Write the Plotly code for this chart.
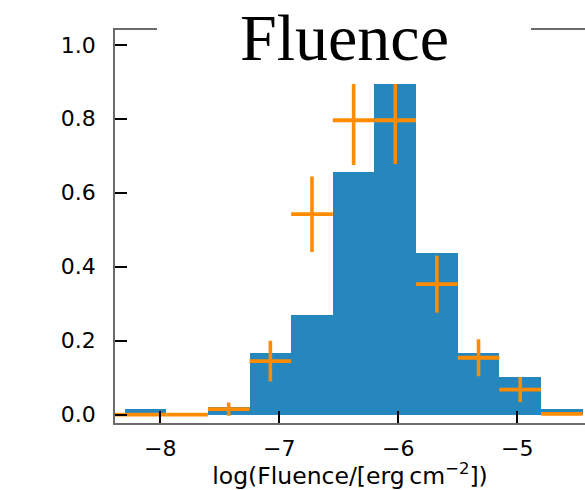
import plotly.graph_objects as go

# Blue histogram (bin left edges at -8.30, width 0.35)
hist_centers = [-8.125, -7.775, -7.425, -7.075, -6.725, -6.375, -6.025, -5.675, -5.325, -4.975, -4.625]
hist_values = [0.016, 0.0, 0.020, 0.168, 0.269, 0.656, 1.0, 0.436, 0.168, 0.103, 0.015]
bin_width = 0.35

# Orange binned points with errors
pt_centers = [-8.475, -8.125, -7.775, -7.425, -7.075, -6.725, -6.375, -6.025, -5.675, -5.325, -4.975, -4.625]
pt_values = [0.0, 0.0, 0.0, 0.015, 0.145, 0.542, 0.796, 0.796, 0.353, 0.154, 0.068, 0.002]
pt_errors = [0.0, 0.0, 0.0, 0.018, 0.055, 0.102, 0.121, 0.118, 0.077, 0.050, 0.034, 0.0]

x_ticks = [-8, -7, -6, -5]
y_ticks = [0.0, 0.2, 0.4, 0.6, 0.8, 1.0]

fig = go.Figure()
fig.add_trace(go.Bar(x=hist_centers, y=hist_values, width=bin_width,
                     marker=dict(color="#2687be", line=dict(width=0)),
                     showlegend=False))
fig.add_trace(go.Scatter(x=pt_centers, y=pt_values, mode="markers",
                         marker=dict(size=1, color="#ff8c00", opacity=0),
                         error_x=dict(type="constant", value=bin_width / 2, thickness=3.8,
                                      width=0, color="#ff8c00"),
                         error_y=dict(type="data", array=pt_errors, thickness=3.6,
                                      width=0, color="#ff8c00"),
                         showlegend=False))

L, T, R, B = 115, 30, 0, 67
W, H = 585, 490
pw, ph = W - L - R, H - T - B

fig.update_layout(
    width=W, height=H,
    margin=dict(l=L, r=R, t=T, b=B, pad=0),
    paper_bgcolor="white", plot_bgcolor="white",
    bargap=0,
    font=dict(family="DejaVu Sans", size=22, color="black"),
    xaxis=dict(range=[-8.381, -4.43], tickvals=x_ticks,
               ticktext=["\u2212" + str(abs(v)) for v in x_ticks],
               ticks="inside", ticklen=12, tickwidth=2, tickcolor="black",
               showline=True, linecolor="#6b6b6b", linewidth=1.5, mirror=True,
               showgrid=False, zeroline=False, ticklabelstandoff=5,
               tickfont=dict(size=22),
               title=dict(text="log(Fluence/[erg\u2009cm<sup>\u22122</sup>])",
                          font=dict(size=23.5), standoff=4)),
    yaxis=dict(range=[-0.0224, 1.04], tickvals=y_ticks,
               ticktext=["%.1f" % v for v in y_ticks],
               ticks="inside", ticklen=12, tickwidth=2, tickcolor="black",
               showline=True, linecolor="#6b6b6b", linewidth=1.5, mirror=False,
               showgrid=False, zeroline=False, ticklabelstandoff=13,
               tickfont=dict(size=22)),
    shapes=[dict(type="rect", xref="paper", yref="paper",
                 x0=(157 - L) / pw, x1=(531 - L) / pw,
                 y0=(H - B - 84) / ph, y1=1.04,
                 fillcolor="white", line=dict(width=0), layer="above")],
    annotations=[dict(text="Fluence", xref="paper", yref="paper",
                      x=(344 - L) / pw, y=(H - B - 38) / ph,
                      xanchor="center", yanchor="middle", showarrow=False,
                      font=dict(family="Liberation Serif", size=66, color="black"))],
)

fig.write_html("out.html")
